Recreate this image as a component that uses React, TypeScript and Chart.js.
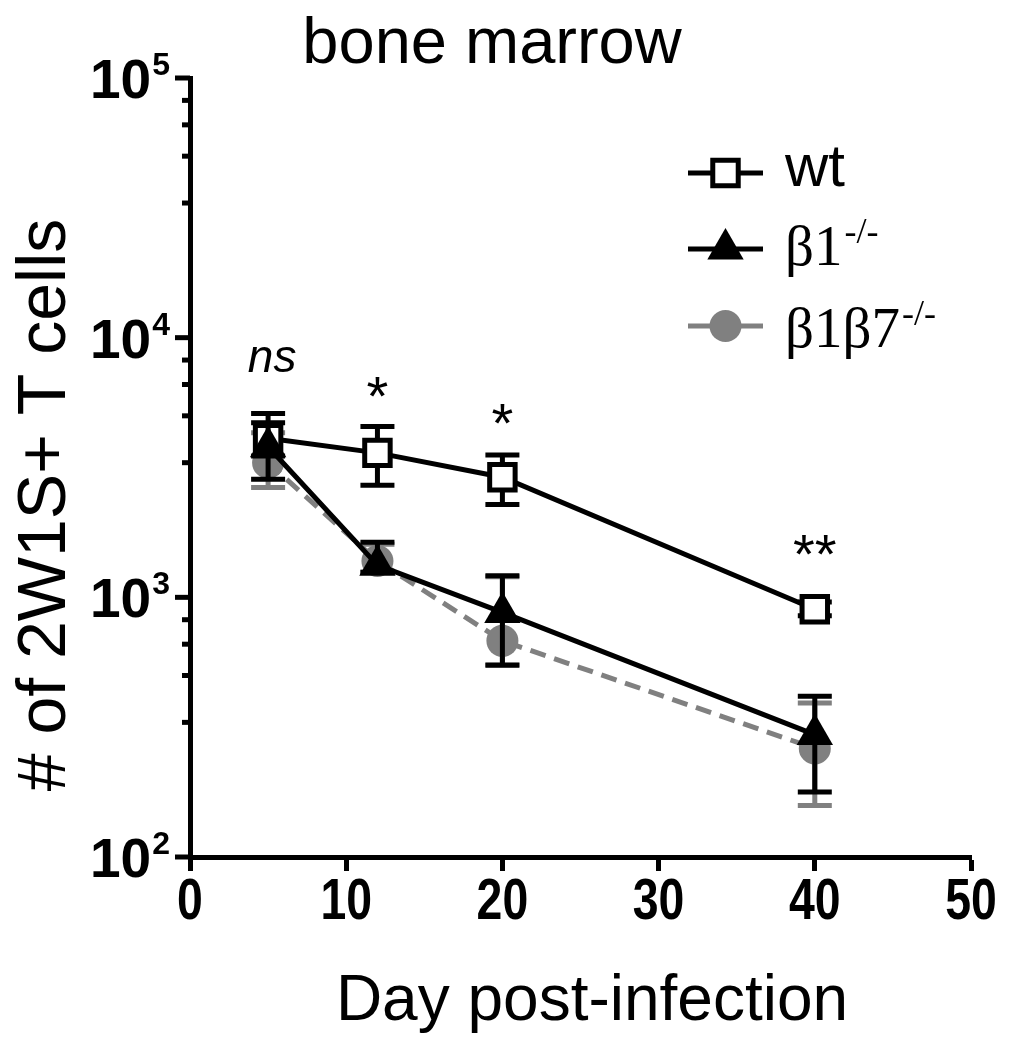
import React, { useEffect, useRef } from 'react';
import { Chart, registerables } from 'chart.js';
Chart.register(...registerables);

// ---- data ----
const days = [5, 12, 20, 40];
const wtMean = [4100, 3600, 2900, 900];
const wtHigh = [4700, 4550, 3530, 960];
const wtLow = [3500, 2700, 2280, 850];
const b1Mean = [3800, 1330, 875, 296];
const b1High = [5100, 1630, 1210, 416];
const b1Low = [2850, 1250, 548, 178];
const b17Mean = [3300, 1380, 680, 262];
const b17High = [4300, 1600, 1200, 392];
const b17Low = [2650, 1250, 550, 158];
const xTickValues = [0, 10, 20, 30, 40, 50];
const yMajorTicks = [100, 1000, 10000, 100000];
const yMinorFactors = [3.3, 5, 6.6, 8.2];
const sigLabels = ['ns', '*', '*', '**'];
const sigLevels = [8170, 6710, 5270, 1655];
const seriesNames = ['wt', 'β1', 'β1β7'];
const seriesSup = ['', '-/-', '-/-'];
const titleText = 'bone marrow';
const xTitle = 'Day post-infection';
const yTitle = '# of 2W1S+ T cells';

const GRAY = '#808080';
const SANS = '"Liberation Sans", Arial, sans-serif';
const SERIF = '"Liberation Serif", "Times New Roman", serif';

function drawMarker(ctx: CanvasRenderingContext2D, style: string, x: number, y: number, r: number, fill: string, stroke: string, bw: number) {
  ctx.beginPath();
  if (style === 'rect') {
    const s = Math.SQRT1_2 * r;
    ctx.rect(x - s, y - s, 2 * s, 2 * s);
  } else if (style === 'triangle') {
    ctx.moveTo(x, y - r);
    ctx.lineTo(x + Math.sin(2 * Math.PI / 3) * r, y + r / 2);
    ctx.lineTo(x - Math.sin(2 * Math.PI / 3) * r, y + r / 2);
    ctx.closePath();
  } else {
    ctx.arc(x, y, r, 0, Math.PI * 2);
  }
  ctx.fillStyle = fill;
  ctx.fill();
  if (bw > 0) {
    ctx.lineWidth = bw;
    ctx.strokeStyle = stroke;
    ctx.stroke();
  }
}

const errSets = [
  { hi: wtHigh, lo: wtLow, color: '#000' },
  { hi: b1High, lo: b1Low, color: '#000' },
  { hi: b17High, lo: b17Low, color: GRAY },
];

const overlay = {
  id: 'overlay',
  beforeDatasetDraw(chart: any, args: any) {
    const ctx = chart.ctx;
    const xs = chart.scales.x;
    const ys = chart.scales.y;
    const s = errSets[args.index];
    if (!s) return;
    ctx.save();
    ctx.strokeStyle = s.color;
    ctx.lineWidth = 5;
    ctx.lineCap = 'butt';
    for (let i = 0; i < days.length; i++) {
      const x = xs.getPixelForValue(days[i]);
      const yh = ys.getPixelForValue(s.hi[i]);
      const yl = ys.getPixelForValue(s.lo[i]);
      ctx.beginPath();
      ctx.moveTo(x, yh);
      ctx.lineTo(x, yl);
      ctx.moveTo(x - 17, yh);
      ctx.lineTo(x + 17, yh);
      ctx.moveTo(x - 17, yl);
      ctx.lineTo(x + 17, yl);
      ctx.stroke();
    }
    ctx.restore();
  },
  afterDraw(chart: any) {
    const ctx: CanvasRenderingContext2D = chart.ctx;
    const xs = chart.scales.x;
    const ys = chart.scales.y;
    const left = chart.chartArea.left;
    const bottom = chart.chartArea.bottom;
    ctx.save();
    ctx.fillStyle = '#000';
    ctx.strokeStyle = '#000';
    // y ticks
    ctx.lineWidth = 5;
    for (let k = 0; k < yMajorTicks.length; k++) {
      const v = yMajorTicks[k];
      const y = ys.getPixelForValue(v);
      ctx.beginPath();
      ctx.moveTo(left - 15, y);
      ctx.lineTo(left, y);
      ctx.stroke();
      if (k < yMajorTicks.length - 1) {
        for (const f of yMinorFactors) {
          const ym = ys.getPixelForValue(v * f);
          ctx.beginPath();
          ctx.moveTo(left - 8, ym);
          ctx.lineTo(left, ym);
          ctx.stroke();
        }
      }
      // label 10^n
      const exp = String(Math.round(Math.log10(v)));
      ctx.font = 'bold 32px ' + SANS;
      const supW = ctx.measureText(exp).width;
      ctx.font = 'bold 55px ' + SANS;
      const baseW = ctx.measureText('10').width;
      const xEnd = left - 20;
      ctx.textAlign = 'left';
      ctx.textBaseline = 'alphabetic';
      ctx.fillText('10', xEnd - supW - 1 - baseW, y + 20);
      ctx.font = 'bold 32px ' + SANS;
      ctx.fillText(exp, xEnd - supW, y - 3);
    }
    // x tick labels (condensed bold)
    ctx.font = 'bold 58px ' + SANS;
    ctx.textAlign = 'center';
    for (const v of xTickValues) {
      const x = xs.getPixelForValue(v);
      ctx.save();
      ctx.translate(x, bottom + 62);
      ctx.scale(0.8, 1);
      ctx.fillText(String(v), 0, 0);
      ctx.restore();
    }
    // significance labels
    ctx.textAlign = 'center';
    for (let i = 0; i < days.length; i++) {
      const x = xs.getPixelForValue(days[i]);
      const yc = ys.getPixelForValue(sigLevels[i]);
      if (sigLabels[i] === 'ns') {
        ctx.font = 'italic 46px ' + SANS;
        ctx.fillText(sigLabels[i], x + 4, yc + 12);
      } else {
        ctx.font = '56px ' + SANS;
        ctx.fillText(sigLabels[i], x, yc + 32);
      }
    }
    // title
    ctx.font = '65px ' + SANS;
    ctx.fillText(titleText, 484, 55);
    // x title
    ctx.font = '64px ' + SANS;
    ctx.fillText(xTitle, 584, 1012);
    // y title
    ctx.save();
    ctx.translate(57, 497);
    ctx.rotate(-Math.PI / 2);
    ctx.font = '68px ' + SANS;
    ctx.fillText(yTitle, 0, 0);
    ctx.restore();
    // legend
    const rows = [165, 241, 318];
    const bases = [178, 257, 339];
    const styles = [
      { s: 'rect', r: 18, fill: '#fff', stroke: '#000', bw: 5, color: '#000' },
      { s: 'triangle', r: 21, fill: '#000', stroke: '#000', bw: 0, color: '#000' },
      { s: 'circle', r: 16, fill: GRAY, stroke: GRAY, bw: 0, color: GRAY },
    ];
    for (let i = 0; i < 3; i++) {
      const st = styles[i];
      ctx.strokeStyle = st.color;
      ctx.lineWidth = 5;
      ctx.beginPath();
      ctx.moveTo(680, rows[i]);
      ctx.lineTo(755, rows[i]);
      ctx.stroke();
      drawMarker(ctx, st.s, 717.5, rows[i], st.r, st.fill, st.stroke, st.bw);
      ctx.fillStyle = '#000';
      ctx.textAlign = 'left';
      if (i === 0) {
        ctx.font = '60px ' + SANS;
        ctx.fillText(seriesNames[i], 777, bases[i]);
      } else {
        ctx.font = '57px ' + SERIF;
        ctx.fillText(seriesNames[i], 777, bases[i]);
        const w = ctx.measureText(seriesNames[i]).width;
        ctx.font = '36px ' + SERIF;
        ctx.fillText(seriesSup[i], 777 + w + 2, bases[i] - 22);
      }
    }
    ctx.restore();
  },
};

export default function App() {
  const ref = useRef<HTMLCanvasElement | null>(null);
  useEffect(() => {
    if (!ref.current) return;
    const mk = (arr: number[]) => days.map((d, i) => ({ x: d, y: arr[i] }));
    const chart = new Chart(ref.current, {
      type: 'line',
      data: {
        datasets: [
          {
            label: 'wt', data: mk(wtMean), borderColor: '#000', borderWidth: 5,
            pointStyle: 'rect', pointRadius: 18, pointBackgroundColor: '#fff', pointBorderColor: '#000', pointBorderWidth: 5,
            order: 2,
          },
          {
            label: 'β1-/-', data: mk(b1Mean), borderColor: '#000', borderWidth: 5,
            pointStyle: 'triangle', pointRadius: 21, pointBackgroundColor: '#000', pointBorderColor: '#000', pointBorderWidth: 0,
            order: 1,
          },
          {
            label: 'β1β7-/-', data: mk(b17Mean), borderColor: GRAY, borderWidth: 5, borderDash: [16, 9],
            pointStyle: 'circle', pointRadius: 16, pointBackgroundColor: GRAY, pointBorderColor: GRAY, pointBorderWidth: 0,
            order: 3,
          },
        ],
      },
      options: {
        responsive: false,
        animation: false,
        layout: { padding: { left: 0, right: 32, top: 70, bottom: 0 } },
        plugins: { legend: { display: false }, title: { display: false }, tooltip: { enabled: false } },
        scales: {
          x: {
            type: 'linear', min: 0, max: 50,
            afterBuildTicks: (s: any) => { s.ticks = xTickValues.map((v) => ({ value: v })); },
            afterFit: (s: any) => { s.height = 185; },
            ticks: { display: false },
            grid: { drawOnChartArea: false, drawTicks: true, tickLength: 14, tickWidth: 5, tickColor: '#000', color: '#000' },
            border: { display: true, color: '#000', width: 5 },
          },
          y: {
            type: 'logarithmic', min: 100, max: 100000,
            afterFit: (s: any) => { s.width = 182; },
            ticks: { display: false },
            grid: { display: false },
            border: { display: true, color: '#000', width: 5 },
          },
        },
      },
      plugins: [overlay],
    } as any);
    return () => chart.destroy();
  }, []);
  return (
    <div style={{ width: 995, height: 1034 }}>
      <canvas ref={ref} width={995} height={1034} style={{ display: 'block' }} />
    </div>
  );
}
